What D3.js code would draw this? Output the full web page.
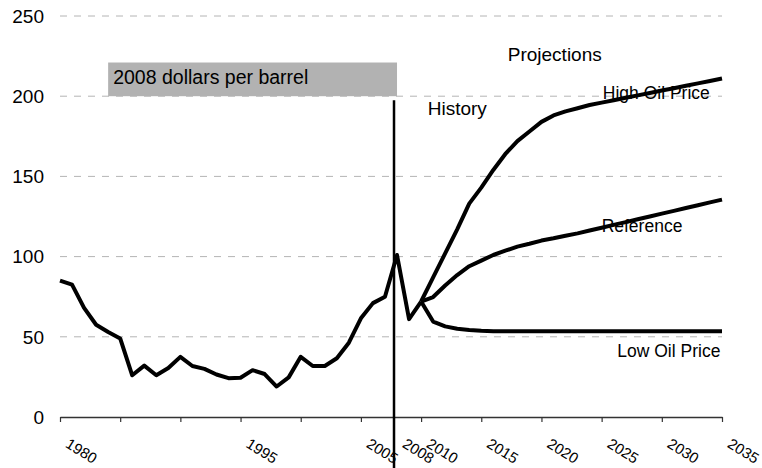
<!DOCTYPE html>
<html>
<head>
<meta charset="utf-8">
<script src="https://cdn.jsdelivr.net/npm/d3@7"></script>
<style>
  html, body { margin: 0; padding: 0; background: #fff; }
  svg { display: block; font-family: "Liberation Sans", Arial, sans-serif; }
</style>
</head>
<body>
<svg id="chart" width="762" height="468"></svg>
<script>
// ---- Data ----
const histYears = [1980,1981,1982,1983,1984,1985,1986,1987,1988,1989,1990,1991,1992,1993,1994,1995,1996,1997,1998,1999,2000,2001,2002,2003,2004,2005,2006,2007,2008,2009,2010];
const histPrice = [85,82.5,68,57.5,53,49,26,32,26,30.5,37.5,31.8,30,26.5,24.2,24.5,29.2,26.8,19,24.7,37.5,31.8,31.8,36.6,46.3,61.5,71,75,101,61,72];

const projYears = [2010,2011,2012,2013,2014,2015,2016,2017,2018,2019,2020,2021,2022,2023,2024,2025,2026,2027,2028,2029,2030,2031,2032,2033,2034,2035];
const highPrice = [72,87,102,117,133,143,154,164,172,178,184,188,190.5,192.5,194.5,196,197.5,199,200.5,202,203.5,205,206.5,208,209.5,211];
const refPrice  = [72,74.8,82,88.5,94,97.5,101,103.7,106.2,108,110,111.4,113,114.5,116.3,118,119.8,121.5,123.3,125,126.8,128.5,130.3,132,133.8,135.5];
const lowPrice  = [72,59.5,56.5,55,54.3,53.8,53.5,53.5,53.5,53.5,53.5,53.5,53.5,53.5,53.5,53.5,53.5,53.5,53.5,53.5,53.5,53.5,53.5,53.5,53.5,53.5];

const yTicks = [0,50,100,150,200,250];
const xTicks = [1980,1985,1990,1995,2000,2005,2010,2015,2020,2025,2030,2035];
const xTickLabels = [1980,1995,2005,2008,2010,2015,2020,2025,2030,2035];

const seriesLabels = [
  {text: "High Oil Price", year: 2025.1, value: 198},
  {text: "Reference", year: 2025.0, value: 115.5},
  {text: "Low Oil Price", year: 2026.3, value: 37.6}
];

// ---- Scales ----
const svg = d3.select("#chart");
const x = d3.scaleLinear().domain([1980, 2035]).range([60, 722]);
const y = d3.scaleLinear().domain([0, 250]).range([417, 16]);

// gridlines
svg.append("g").selectAll("line")
  .data(yTicks.filter(d => d > 0))
  .join("line")
  .attr("x1", x(1980)).attr("x2", x(2035))
  .attr("y1", d => y(d)).attr("y2", d => y(d))
  .attr("stroke", "#b4b4b4").attr("stroke-width", 1)
  .attr("stroke-dasharray", "7,7");

// y labels
svg.append("g").selectAll("text")
  .data(yTicks)
  .join("text")
  .attr("x", 44).attr("y", d => y(d))
  .attr("dy", "0.36em")
  .attr("text-anchor", "end")
  .attr("font-size", 19)
  .attr("fill", "#000")
  .text(d => d);

// x axis baseline + ticks
const xAxis = d3.axisBottom(x).tickValues(xTicks).tickSize(5).tickSizeOuter(0).tickFormat("");
const gx = svg.append("g").attr("transform", `translate(0,${y(0)})`).call(xAxis);
gx.select(".domain").attr("stroke", "#333").attr("stroke-width", 1.5);
gx.selectAll(".tick line").attr("stroke", "#333").attr("stroke-width", 1.2);

// x labels (rotated)
svg.append("g").selectAll("text")
  .data(xTickLabels)
  .join("text")
  .attr("transform", d => `translate(${x(d) + 4.5},${446.5}) rotate(32)`)
  .attr("font-size", 15)
  .attr("fill", "#000")
  .text(d => d);

// gray box label
svg.append("rect")
  .attr("x", x(1984)).attr("y", y(221))
  .attr("width", x(2008) - x(1984)).attr("height", y(200) - y(221))
  .attr("fill", "#b2b2b2");
svg.append("text")
  .attr("x", x(1984) + 5).attr("y", y(207.5))
  .attr("font-size", 19.5).attr("fill", "#000")
  .text("2008 dollars per barrel");

// divider
svg.append("line")
  .attr("x1", x(2007.75)).attr("x2", x(2007.75))
  .attr("y1", y(197.5)).attr("y2", 468)
  .attr("stroke", "#000").attr("stroke-width", 2.5);

svg.append("text").attr("x", x(2010.55)).attr("y", y(188.3))
  .attr("font-size", 19).text("History");
svg.append("text").attr("x", x(2017.2)).attr("y", y(222))
  .attr("font-size", 19).text("Projections");

// lines
const line = d3.line().x(d => x(d[0])).y(d => y(d[1]));
const hist = histYears.map((yr, i) => [yr, histPrice[i]]);
const proj = [highPrice, refPrice, lowPrice].map(arr => projYears.map((yr, i) => [yr, arr[i]]));

svg.append("g").selectAll("path")
  .data([hist, ...proj])
  .join("path")
  .attr("d", line)
  .attr("fill", "none")
  .attr("stroke", "#000")
  .attr("stroke-width", 4)
  .attr("stroke-linejoin", "round")
  .attr("stroke-linecap", "butt");

// series labels
svg.append("g").selectAll("text")
  .data(seriesLabels)
  .join("text")
  .attr("x", d => x(d.year)).attr("y", d => y(d.value))
  .attr("font-size", 17.5)
  .attr("fill", "#000")
  .text(d => d.text);
</script>
</body>
</html>
